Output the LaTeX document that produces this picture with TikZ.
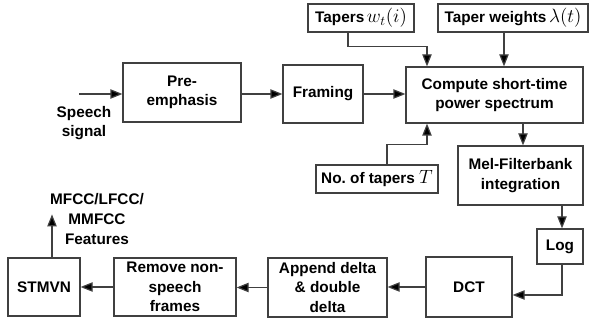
\documentclass[tikz,border=0pt]{standalone}
\usepackage{fontspec}
\setmainfont{Liberation Sans}
\usetikzlibrary{arrows.meta}
\begin{document}
\begin{tikzpicture}[x=0.75pt,y=-0.75pt,
			font=\fontsize{11.5}{14.5}\selectfont\bfseries]
			\tikzset{blk/.style={draw=black!75,line width=0.9pt,align=center,inner sep=1pt},
				con/.style={-{Triangle[length=9pt,width=7pt,fill=black]},draw=black!75,line width=0.9pt}}
			\useasboundingbox (0,0) rectangle (590,321);
			% Các khối
			\node[blk,minimum width=88.5pt,minimum height=44.25pt] (pre) at (182,92.5) {Pre-\\emphasis};
			\node[blk,minimum width=60pt,minimum height=43.5pt] (fram) at (323,94) {Framing};
			\node[blk,minimum width=132.75pt,minimum height=42pt] (comp) at (494.5,95) {Compute short-time\\power spectrum};
			\node[blk,minimum width=79.5pt,minimum height=21pt,inner sep=0pt] (tap) at (361,18)
				{Tapers\,{\fontsize{14}{14}\selectfont$w_t\bigl(i\bigr)$}};
			\node[blk,minimum width=112.5pt,minimum height=21pt,inner sep=0pt] (tw) at (513,18)
				{Taper weights\,{\fontsize{14}{14}\selectfont$\lambda\bigl(t\bigr)$}};
			\node[blk,minimum width=91.5pt,minimum height=21pt,inner sep=0pt] (ntap) at (377,179)
				{No.\ of tapers {\fontsize{14}{14}\selectfont$T$}};
			\node[blk,minimum width=93.75pt,minimum height=44.25pt] (mel) at (520.5,175.5) {Mel-Filterbank\\integration};
			\node[blk,minimum width=34.5pt,minimum height=26.25pt] (log) at (560,246.5) {Log};
			\node[blk,minimum width=64.5pt,minimum height=45pt] (dct) at (469,287) {DCT};
			\node[blk,minimum width=89.25pt,minimum height=44.25pt] (app) at (327.5,287.5) {Append delta\\\& double\\delta};
			\node[blk,minimum width=91.5pt,minimum height=43.5pt] (rem) at (175,287) {Remove non-\\speech\\frames};
			\node[blk,minimum width=54pt,minimum height=43.5pt] (stm) at (44,287) {STMVN};
			% Nhãn vào/ra
			\coordinate (sp) at (79,94);
			\node[align=center,font=\fontsize{11.5}{14.25}\selectfont\bfseries] (spl) at (84,123) {Speech\\signal};
			\node[align=center,font=\fontsize{11.5}{15}\selectfont\bfseries] (feat) at (97,219.5) {MFCC/LFCC/\\MMFCC\\Features};
			% Các mũi tên
			\draw[con] (sp) -- (sp -| pre.west);
			\draw[con] (sp -| pre.east) -- (sp -| fram.west);
			\draw[con] (sp -| fram.east) -- (sp -| comp.west);
			\draw[con] ([xshift=-9.75pt]tap.south) -- ++(0,14) -| ([xshift=-50.625pt]comp.north);
			\draw[con] ([xshift=-6.75pt]tw.south) -- ([xshift=-6.75pt]tw.south |- comp.north);
			\draw[con] ([xshift=7.5pt]ntap.north) -- ++(0,-20) -| ([xshift=-50.625pt]comp.south);
			\draw[con] ([xshift=21.375pt]comp.south) -- ([xshift=21.375pt]comp.south |- mel.north);
			\draw[con] ([xshift=1.5pt]mel.south -| log.north) -- ([xshift=1.5pt]log.north);
			\draw[con] ([xshift=1.5pt]log.south) |- ([yshift=-6pt]dct.east);
			\draw[con] (dct.west) -- (dct.west -| app.east);
			\draw[con] (app.west) -- (app.west -| rem.east);
			\draw[con] (rem.west) -- (rem.west -| stm.east);
			\draw[con] ([xshift=6pt]stm.north) -- ++(0,-43);
		\end{tikzpicture}
\end{document}
